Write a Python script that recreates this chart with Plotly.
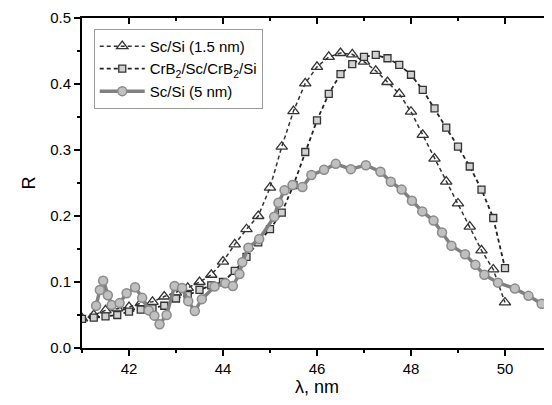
import plotly.graph_objects as go

# Sc/Si (1.5 nm)
x_tri = [41.0, 41.25, 41.5, 41.75, 42.0, 42.25, 42.5, 42.75, 43.0, 43.25, 43.5, 43.75,
         44.0, 44.25, 44.5, 44.75, 45.0, 45.25, 45.5, 45.75, 46.0, 46.25, 46.5, 46.75,
         47.0, 47.25, 47.5, 47.75, 48.0, 48.25, 48.5, 48.75, 49.0, 49.25, 49.5, 49.75, 50.0]
y_tri = [0.045, 0.050, 0.057, 0.060, 0.062, 0.068, 0.070, 0.078, 0.084, 0.091, 0.100, 0.111,
         0.131, 0.157, 0.180, 0.200, 0.243, 0.305, 0.359, 0.401, 0.426, 0.441, 0.447, 0.445,
         0.434, 0.420, 0.403, 0.385, 0.358, 0.323, 0.287, 0.252, 0.219, 0.184, 0.148, 0.119, 0.069]

# CrB2/Sc/CrB2/Si
x_sq = x_tri
y_sq = [0.044, 0.046, 0.048, 0.050, 0.055, 0.058, 0.060, 0.064, 0.075, 0.080, 0.088, 0.095,
        0.100, 0.117, 0.138, 0.160, 0.180, 0.205, 0.247, 0.297, 0.345, 0.385, 0.415, 0.430,
        0.441, 0.444, 0.439, 0.429, 0.414, 0.391, 0.363, 0.334, 0.305, 0.275, 0.240, 0.197, 0.121]

# Sc/Si (5 nm)
x_circ = [41.30, 41.38, 41.45, 41.55, 41.63, 41.80, 41.95, 42.13, 42.28, 42.42, 42.54, 42.65,
          42.80, 42.97, 43.13, 43.26, 43.40, 43.55, 43.82, 44.05, 44.21, 44.35, 44.41, 44.54,
          44.77, 45.09, 45.18, 45.31, 45.48, 45.69, 45.88, 46.15, 46.40, 46.72, 47.04, 47.35,
          47.57, 47.80, 48.02, 48.24, 48.48, 48.66, 48.86, 49.15, 49.37, 49.56, 49.85, 50.21,
          50.50, 50.78, 51.0]
y_circ = [0.064, 0.088, 0.102, 0.080, 0.065, 0.068, 0.083, 0.092, 0.076, 0.057, 0.049, 0.036,
          0.050, 0.094, 0.091, 0.071, 0.056, 0.074, 0.093, 0.098, 0.094, 0.112, 0.130, 0.152,
          0.165, 0.199, 0.220, 0.239, 0.247, 0.244, 0.262, 0.270, 0.279, 0.271, 0.277, 0.267,
          0.252, 0.240, 0.223, 0.207, 0.193, 0.175, 0.155, 0.142, 0.126, 0.111, 0.099, 0.090,
          0.079, 0.067, 0.062]

x_major = [42, 44, 46, 48, 50]
y_major = [0.0, 0.1, 0.2, 0.3, 0.4, 0.5]
x_range = [41, 51]
y_range = [0, 0.5]

fig = go.Figure()
fig.add_trace(go.Scatter(
    x=x_tri, y=y_tri, mode="lines+markers", name="Sc/Si (1.5 nm)",
    line=dict(color="#333333", width=1.5, dash="4px,3px"),
    marker=dict(symbol="triangle-up-open", size=10, color="#333333", line=dict(width=1.3)),
))
fig.add_trace(go.Scatter(
    x=x_sq, y=y_sq, mode="lines+markers", name="CrB<sub>2</sub>/Sc/CrB<sub>2</sub>/Si",
    line=dict(color="#222222", width=1.8, dash="4px,3px"),
    marker=dict(symbol="square", size=7, color="#d0d0d0", line=dict(color="#333333", width=1.3)),
))
fig.add_trace(go.Scatter(
    x=x_circ, y=y_circ, mode="lines+markers", name="Sc/Si (5 nm)",
    line=dict(color="#808080", width=3.5),
    marker=dict(symbol="circle", size=9, color="#c0c0c0", line=dict(color="#8a8a8a", width=1.5)),
))
# invisible trace that activates the mirrored (top/right) axes
fig.add_trace(go.Scatter(x=[x_range[0]], y=[y_range[0]], xaxis="x2", yaxis="y2", mode="markers",
                         marker=dict(opacity=0), showlegend=False, hoverinfo="skip"))

font = "Liberation Sans, Arial, sans-serif"
common = dict(showline=True, linecolor="black", linewidth=2, showgrid=False, zeroline=False,
              ticklen=6, tickwidth=1.5, tickcolor="black")
fig.update_layout(
    width=544, height=397,
    margin=dict(l=74, r=0, t=10, b=57),
    paper_bgcolor="white", plot_bgcolor="white",
    font=dict(family=font, color="#000000"),
    showlegend=True,
    dragmode=False,
    legend=dict(x=0.025, y=0.967, xanchor="left", yanchor="top",
                bgcolor="white", bordercolor="#999999", borderwidth=1,
                font=dict(size=15, family=font), tracegroupgap=0, itemwidth=45),
    xaxis=dict(range=x_range, tickmode="linear", tick0=42, dtick=2, ticks="outside",
               tickfont=dict(size=15), title=dict(text="λ, nm", font=dict(size=18), standoff=2),
               minor=dict(tick0=41, dtick=1, ticks="outside", ticklen=3, tickwidth=1.5, tickcolor="black"),
               **common),
    yaxis=dict(range=y_range, tickmode="linear", tick0=0, dtick=0.1, tickformat=".1f",
               ticks="outside", tickfont=dict(size=15),
               title=dict(text="R", font=dict(size=18), standoff=10),
               minor=dict(tick0=0, dtick=0.05, ticks="outside", ticklen=3, tickwidth=1.5, tickcolor="black"),
               **common),
    xaxis2=dict(range=x_range, overlaying="x", side="top", tickmode="linear", tick0=42, dtick=2,
                ticks="inside", showticklabels=False,
                minor=dict(tick0=41, dtick=1, ticks="inside", ticklen=3, tickwidth=1.5, tickcolor="black"),
                **common),
    yaxis2=dict(range=y_range, overlaying="y", side="right", tickmode="linear", tick0=0, dtick=0.1,
                ticks="inside", showticklabels=False,
                minor=dict(tick0=0, dtick=0.05, ticks="inside", ticklen=3, tickwidth=1.5, tickcolor="black"),
                **common),
)

fig.write_html("out.html", config={"staticPlot": True})
